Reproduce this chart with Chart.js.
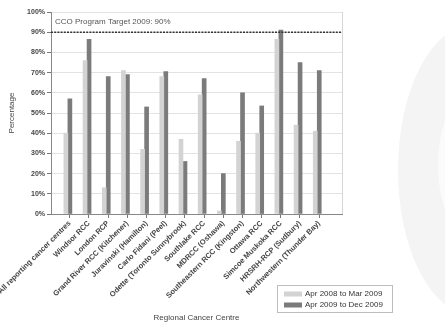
<!DOCTYPE html>
<html>
<head>
<meta charset="utf-8">
<script src="https://cdn.jsdelivr.net/npm/chart.js@4.4.1/dist/chart.umd.min.js"></script>
<style>
  html, body { margin: 0; padding: 0; background: #fff; }
  #wrap { position: relative; width: 445px; height: 328px; overflow: hidden; }
  .swoosh-outer { position: absolute; left: 398px; top: 25px; width: 150px; height: 290px; border-radius: 50%; background: #f4f4f4; }
  .swoosh-inner { position: absolute; left: 438px; top: 70px; width: 120px; height: 190px; border-radius: 50%; background: #fbfbfb; }
  canvas { position: absolute; left: 0; top: 0; }
</style>
</head>
<body>
<div id="wrap">
  <div class="swoosh-outer"></div>
  <div class="swoosh-inner"></div>
  <canvas id="chart" width="445" height="328"></canvas>
</div>
<script>
// Regional cancer centres along the x axis
const centres = [
  'All reporting cancer centres',
  'Windsor RCC',
  'London RCP',
  'Grand River RCC (Kitchener)',
  'Juravinski (Hamilton)',
  'Carlo Fidani (Peel)',
  'Odette (Toronto Sunnybrook)',
  'Southlake RCC',
  'MDRCC (Oshawa)',
  'Southeastern RCC (Kingston)',
  'Ottawa RCC',
  'Simcoe Muskoka RCC',
  'HRSRH-RCP (Sudbury)',
  'Northwestern (Thunder Bay)'
];

// Percentage per centre for each reporting period
const seriesNames = ['Apr 2008 to Mar 2009', 'Apr 2009 to Dec 2009'];
const period2008 = [40, 76, 13, 71, 32, 68, 37, 59, 1.5, 36, 40, 86.5, 44, 41];
const period2009 = [57, 86.5, 68, 69, 53, 70.5, 26, 67, 20, 60, 53.5, 91, 75, 71];

// Percentage axis ticks
const yTicks = [0, 10, 20, 30, 40, 50, 60, 70, 80, 90, 100];

// Program target
const target = 90;
const targetLabel = 'CCO Program Target 2009: 90%';

const FONT = "'Liberation Sans', Arial, sans-serif";

const toPoints = arr => arr.map((v, i) => ({ x: i, y: v }));

const extras = {
  id: 'extras',
  beforeDatasetsDraw(chart) {
    const { ctx, chartArea: a } = chart;
    ctx.save();
    ctx.strokeStyle = '#d6d6d6';
    ctx.lineWidth = 1;
    ctx.beginPath();
    ctx.moveTo(Math.round(a.right) + 0.5, a.top);
    ctx.lineTo(Math.round(a.right) + 0.5, a.bottom);
    ctx.stroke();
    ctx.restore();
  },
  afterDatasetsDraw(chart) {
    const { ctx, chartArea: a, scales } = chart;
    const y = scales.y.getPixelForValue(target);
    ctx.save();
    ctx.strokeStyle = '#333';
    ctx.lineWidth = 1.6;
    ctx.setLineDash([2, 1.2]);
    ctx.beginPath();
    ctx.moveTo(a.left, y);
    ctx.lineTo(a.right, y);
    ctx.stroke();
    ctx.setLineDash([]);
    const yl = (scales.y.getPixelForValue(100) + y) / 2;
    ctx.fillStyle = '#555';
    ctx.font = '8px ' + FONT;
    ctx.textAlign = 'left';
    ctx.textBaseline = 'middle';
    ctx.fillText(targetLabel, a.left + 4, yl);
    ctx.restore();
  },
  afterDraw(chart) {
    const { ctx } = chart;
    const bx = 277, by = 285, bw = 115, bh = 27;
    ctx.save();
    ctx.fillStyle = '#fff';
    ctx.fillRect(bx, by, bw, bh);
    ctx.strokeStyle = '#bdbdbd';
    ctx.lineWidth = 1;
    ctx.strokeRect(bx + 0.5, by + 0.5, bw, bh);
    ctx.font = '8px ' + FONT;
    ctx.textAlign = 'left';
    ctx.textBaseline = 'middle';
    chart.data.datasets.forEach((ds, i) => {
      const cy = by + 9 + i * 11;
      ctx.fillStyle = ds.backgroundColor;
      ctx.fillRect(bx + 7, cy - 2.5, 18, 5);
      ctx.fillStyle = '#333';
      ctx.fillText(ds.label, bx + 28, cy);
    });
    ctx.restore();
  }
};

new Chart(document.getElementById('chart'), {
  type: 'bar',
  data: {
    datasets: [
      { label: seriesNames[0], data: toPoints(period2008), backgroundColor: '#d3d3d3', barThickness: 4 },
      { label: seriesNames[1], data: toPoints(period2009), backgroundColor: '#7b7b7b', barThickness: 4 }
    ]
  },
  options: {
    responsive: false,
    animation: false,
    layout: { padding: { top: 12, right: 103, bottom: 4, left: 0 } },
    plugins: { legend: { display: false }, tooltip: { enabled: false } },
    scales: {
      x: {
        type: 'linear',
        offset: false,
        bounds: 'data',
        min: -0.88,
        max: 14.29,
        afterBuildTicks: s => { s.ticks = centres.map((_, i) => ({ value: i + 0.1 })); },
        afterFit: s => { s.height = 110; s.paddingLeft = 0; s.paddingRight = 0; },
        ticks: {
          autoSkip: false,
          minRotation: 45,
          maxRotation: 45,
          padding: 1,
          color: '#444',
          font: { family: FONT, size: 7.5, weight: 'bold' },
          callback: v => centres[Math.round(v)] ?? ''
        },
        grid: { offset: false, drawOnChartArea: false, drawTicks: true, tickLength: 4, color: '#777', tickColor: '#777' },
        border: { color: '#888', width: 1 },
        title: {
          display: true,
          text: 'Regional Cancer Centre',
          color: '#444',
          font: { family: FONT, size: 8 },
          padding: { top: 0, bottom: 1 }
        }
      },
      y: {
        min: 0,
        max: 100,
        afterBuildTicks: s => { s.ticks = yTicks.map(v => ({ value: v })); },
        afterFit: s => { s.width = 51; },
        ticks: {
          padding: 2,
          color: '#444',
          font: { family: FONT, size: 7, weight: 'bold' },
          callback: v => v + '%'
        },
        grid: { color: '#e3e3e3', tickColor: '#777', tickLength: 4, drawTicks: true },
        border: { color: '#888', width: 1 },
        title: {
          display: true,
          text: 'Percentage',
          color: '#444',
          font: { family: FONT, size: 8 },
          padding: { top: 7, bottom: 0 }
        }
      }
    }
  },
  plugins: [extras]
});
</script>
</body>
</html>
